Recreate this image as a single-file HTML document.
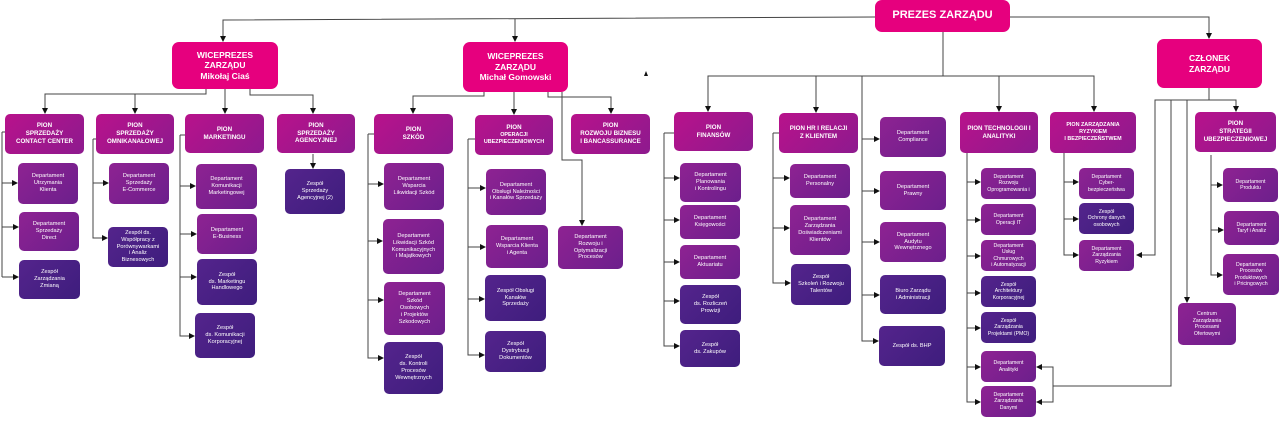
<!DOCTYPE html>
<html><head><meta charset="utf-8"><style>
body{margin:0;width:1280px;height:431px;background:#fff;position:relative;overflow:hidden;font-family:"Liberation Sans",sans-serif}
.b{position:absolute;display:flex;flex-direction:column;align-items:center;justify-content:center;text-align:center;color:#fff;border-radius:5px;font-size:5.6px;line-height:1.25;box-sizing:border-box;padding:1px}
.t{background:#e6007e;font-weight:bold;font-size:8.5px;border-radius:7px}
.p{background:linear-gradient(135deg,#b8128b,#8d1a8e);font-weight:bold;font-size:6.2px}
.d{background:linear-gradient(135deg,#8e2292,#6c1f8c)}
.z{background:linear-gradient(135deg,#54248c,#3e1d7d)}
svg{position:absolute;left:0;top:0}
</style></head><body>
<svg width="1280" height="431" fill="none" stroke="#444" stroke-width="1">
<defs><marker id="a" markerWidth="6" markerHeight="6" refX="5" refY="3" orient="auto" markerUnits="userSpaceOnUse"><path d="M0,0L6,3L0,6z" fill="#111" stroke="none"/></marker></defs>
<g>
<path d="M2,132L2,277"/><path d="M2,132L5,132"/><path d="M93,139L96,139"/><path d="M180,135L185,135"/><path d="M368,134L374,134"/><path d="M468,139L475,139"/><path d="M664,133L674,133"/><path d="M773,133L779,133"/>
</g>
<g marker-end="url(#a)">
<path d="M875,17L223,20L223,41"/>
<path d="M515,19L515,41"/>
<path d="M1010,17L1209,17L1209,38"/>
<path d="M206,89L206,94L45,94L45,113"/>
<path d="M135,94L135,113"/>
<path d="M225,89L225,113"/>
<path d="M250,89L250,95L313,95L313,113"/>
<path d="M313,154L313,168"/>
<path d="M2,132L2,183L17,183"/><path d="M2,227L18,227"/><path d="M2,277L18,277"/>
<path d="M93,139L93,183L108,183"/><path d="M93,139L93,238L107,238"/>
<path d="M180,135L180,186L195,186"/><path d="M180,234L196,234"/><path d="M180,277L196,277"/><path d="M180,135L180,336L194,336"/>
<path d="M484,92L484,96L413,96L413,113"/><path d="M514,92L514,114"/>
<path d="M548,92L548,97L611,97L611,113"/>
<path d="M562,92L562,160L582,160L582,225"/>
<path d="M368,134L368,184L383,184"/><path d="M368,241L382,241"/><path d="M368,300L383,300"/><path d="M368,134L368,358L383,358"/>
<path d="M468,139L468,188L485,188"/><path d="M468,247L485,247"/><path d="M468,299L484,299"/><path d="M468,139L468,355L484,355"/>
<path d="M943,32L943,76L708,76L708,111"/><path d="M816,76L816,112"/><path d="M943,76L1094,76L1094,111"/><path d="M999,76L999,111"/>
<path d="M862,76L862,139L879,139"/><path d="M862,191L879,191"/><path d="M862,242L879,242"/><path d="M862,295L879,295"/><path d="M862,76L862,341L878,341"/>
<path d="M664,133L664,178L679,178"/><path d="M664,220L679,220"/><path d="M664,262L679,262"/><path d="M664,301L679,301"/><path d="M664,133L664,346L679,346"/>
<path d="M773,133L773,178L789,178"/><path d="M773,228L789,228"/><path d="M773,133L773,283L790,283"/>
<path d="M967,153L967,182L980,182"/><path d="M967,220L980,220"/><path d="M967,256L980,256"/><path d="M967,293L980,293"/><path d="M967,328L980,328"/><path d="M967,367L980,367"/><path d="M967,153L967,402L980,402"/>
<path d="M1064,153L1064,182L1078,182"/><path d="M1064,219L1078,219"/><path d="M1064,153L1064,255L1078,255"/>
<path d="M1209,88L1209,100L1155,100L1155,255L1137,255"/>
<path d="M1209,100L1236,100L1236,111"/>
<path d="M1187,100L1187,302"/>
<path d="M1171,100L1171,386L1053,386L1053,367L1037,367"/><path d="M1053,386L1053,402L1037,402"/>
<path d="M1211,155L1211,185L1222,185"/><path d="M1211,230L1223,230"/><path d="M1211,155L1211,275L1222,275"/>
</g>
<path d="M644,76L646,71L648,76z" fill="#111" stroke="none"/>
</svg>
<div class="b t" style="left:875px;top:0;width:135px;height:32px;font-size:11px">PREZES ZARZĄDU</div>
<div class="b t" style="left:172px;top:42px;width:106px;height:47px">WICEPREZES<br>ZARZĄDU<br>Mikołaj Ciaś</div>
<div class="b t" style="left:463px;top:42px;width:105px;height:50px">WICEPREZES<br>ZARZĄDU<br>Michał Gomowski</div>
<div class="b t" style="left:1157px;top:39px;width:105px;height:49px">CZŁONEK<br>ZARZĄDU</div>

<div class="b p" style="left:5px;top:114px;width:79px;height:40px">PION<br>SPRZEDAŻY<br>CONTACT CENTER</div>
<div class="b p" style="left:96px;top:114px;width:78px;height:40px">PION<br>SPRZEDAŻY<br>OMNIKANAŁOWEJ</div>
<div class="b p" style="left:185px;top:114px;width:79px;height:39px">PION<br>MARKETINGU</div>
<div class="b p" style="left:277px;top:114px;width:78px;height:39px">PION<br>SPRZEDAŻY<br>AGENCYJNEJ</div>
<div class="b z" style="left:285px;top:169px;width:60px;height:45px">Zespół<br>Sprzedaży<br>Agencyjnej (2)</div>

<div class="b d" style="left:18px;top:163px;width:60px;height:41px">Departament<br>Utrzymania<br>Klienta</div>
<div class="b d" style="left:19px;top:212px;width:60px;height:39px">Departament<br>Sprzedaży<br>Direct</div>
<div class="b z" style="left:19px;top:260px;width:61px;height:39px">Zespół<br>Zarządzania<br>Zmianą</div>
<div class="b d" style="left:109px;top:163px;width:60px;height:41px">Departament<br>Sprzedaży<br>E-Commerce</div>
<div class="b z" style="left:108px;top:227px;width:60px;height:40px">Zespół ds.<br>Współpracy z<br>Porównywarkami<br>i Analiz<br>Biznesowych</div>
<div class="b d" style="left:196px;top:164px;width:61px;height:45px">Departament<br>Komunikacji<br>Marketingowej</div>
<div class="b d" style="left:197px;top:214px;width:60px;height:40px">Departament<br>E-Business</div>
<div class="b z" style="left:197px;top:259px;width:60px;height:46px">Zespół<br>ds. Marketingu<br>Handlowego</div>
<div class="b z" style="left:195px;top:313px;width:60px;height:45px">Zespół<br>ds. Komunikacji<br>Korporacyjnej</div>

<div class="b p" style="left:374px;top:114px;width:79px;height:40px">PION<br>SZKÓD</div>
<div class="b p" style="left:475px;top:115px;width:78px;height:40px"><div>PION</div><div style="font-size:5.4px">OPERACJI<br>UBEZPIECZENIOWYCH</div></div>
<div class="b p" style="left:571px;top:114px;width:79px;height:40px">PION<br>ROZWOJU BIZNESU<br>I BANCASSURANCE</div>
<div class="b d" style="left:558px;top:226px;width:65px;height:43px">Departament<br>Rozwoju i<br>Optymalizacji<br>Procesów</div>
<div class="b d" style="left:384px;top:163px;width:60px;height:47px">Departament<br>Wsparcia<br>Likwidacji Szkód</div>
<div class="b d" style="left:383px;top:219px;width:61px;height:55px">Departament<br>Likwidacji Szkód<br>Komunikacyjnych<br>i Majątkowych</div>
<div class="b d" style="left:384px;top:282px;width:61px;height:53px">Departament<br>Szkód<br>Osobowych<br>i Projektów<br>Szkodowych</div>
<div class="b z" style="left:384px;top:342px;width:59px;height:52px">Zespół<br>ds. Kontroli<br>Procesów<br>Wewnętrznych</div>
<div class="b d" style="left:486px;top:169px;width:60px;height:46px">Departament<br>Obsługi Należności<br>i Kanałów Sprzedaży</div>
<div class="b d" style="left:486px;top:225px;width:62px;height:43px">Departament<br>Wsparcia Klienta<br>i Agenta</div>
<div class="b z" style="left:485px;top:275px;width:61px;height:46px">Zespół Obsługi<br>Kanałów<br>Sprzedaży</div>
<div class="b z" style="left:485px;top:331px;width:61px;height:41px">Zespół<br>Dystrybucji<br>Dokumentów</div>

<div class="b p" style="left:674px;top:112px;width:79px;height:39px">PION<br>FINANSÓW</div>
<div class="b d" style="left:680px;top:163px;width:61px;height:39px">Departament<br>Planowania<br>i Kontrolingu</div>
<div class="b d" style="left:680px;top:205px;width:60px;height:34px">Departament<br>Księgowości</div>
<div class="b d" style="left:680px;top:245px;width:60px;height:34px">Departament<br>Aktuariatu</div>
<div class="b z" style="left:680px;top:285px;width:61px;height:39px">Zespół<br>ds. Rozliczeń<br>Prowizji</div>
<div class="b z" style="left:680px;top:330px;width:60px;height:37px">Zespół<br>ds. Zakupów</div>

<div class="b p" style="left:779px;top:113px;width:79px;height:40px">PION HR I RELACJI<br>Z KLIENTEM</div>
<div class="b d" style="left:790px;top:164px;width:60px;height:34px">Departament<br>Personalny</div>
<div class="b d" style="left:790px;top:205px;width:60px;height:50px">Departament<br>Zarządzania<br>Doświadczeniami<br>Klientów</div>
<div class="b z" style="left:791px;top:264px;width:60px;height:41px">Zespół<br>Szkoleń i Rozwoju<br>Talentów</div>

<div class="b d" style="left:880px;top:117px;width:66px;height:40px">Departament<br>Compliance</div>
<div class="b d" style="left:880px;top:171px;width:66px;height:39px">Departament<br>Prawny</div>
<div class="b d" style="left:880px;top:222px;width:66px;height:40px">Departament<br>Audytu<br>Wewnętrznego</div>
<div class="b z" style="left:880px;top:275px;width:66px;height:39px">Biuro Zarządu<br>i Administracji</div>
<div class="b z" style="left:879px;top:326px;width:66px;height:40px">Zespół ds. BHP</div>

<div class="b p" style="left:960px;top:112px;width:78px;height:41px">PION TECHNOLOGII I<br>ANALITYKI</div>
<div class="b d" style="left:981px;top:168px;width:55px;height:31px;font-size:5.2px">Departament<br>Rozwoju<br>Oprogramowania i</div>
<div class="b d" style="left:981px;top:204px;width:55px;height:31px;font-size:5.2px">Departament<br>Operacji IT</div>
<div class="b d" style="left:981px;top:240px;width:55px;height:31px;font-size:5.2px">Departament<br>Usług<br>Chmurowych<br>i Automatyzacji</div>
<div class="b z" style="left:981px;top:276px;width:55px;height:31px;font-size:5.2px">Zespół<br>Architektury<br>Korporacyjnej</div>
<div class="b z" style="left:981px;top:312px;width:55px;height:31px;font-size:5.2px">Zespół<br>Zarządzania<br>Projektami (PMO)</div>
<div class="b d" style="left:981px;top:351px;width:55px;height:31px;font-size:5.2px">Departament<br>Analityki</div>
<div class="b d" style="left:981px;top:386px;width:55px;height:31px;font-size:5.2px">Departament<br>Zarządzania<br>Danymi</div>

<div class="b p" style="left:1050px;top:112px;width:86px;height:41px;font-size:5.4px">PION ZARZĄDZANIA<br>RYZYKIEM<br>I BEZPIECZEŃSTWEM</div>
<div class="b d" style="left:1079px;top:168px;width:55px;height:31px;font-size:5.2px">Departament<br>Cyber-<br>bezpieczeństwa</div>
<div class="b z" style="left:1079px;top:203px;width:55px;height:31px;font-size:5.2px">Zespół<br>Ochrony danych<br>osobowych</div>
<div class="b d" style="left:1079px;top:240px;width:55px;height:31px;font-size:5.2px">Departament<br>Zarządzania<br>Ryzykiem</div>

<div class="b p" style="left:1195px;top:112px;width:81px;height:40px">PION<br>STRATEGII<br>UBEZPIECZENIOWEJ</div>
<div class="b d" style="left:1223px;top:168px;width:55px;height:34px;font-size:5.2px">Departament<br>Produktu</div>
<div class="b d" style="left:1224px;top:211px;width:55px;height:34px;font-size:5.2px">Departament<br>Taryf i Analiz</div>
<div class="b d" style="left:1223px;top:254px;width:56px;height:41px;font-size:5.2px">Departament<br>Procesów<br>Produktowych<br>i Pricingowych</div>
<div class="b d" style="left:1178px;top:303px;width:58px;height:42px;font-size:5.2px">Centrum<br>Zarządzania<br>Procesami<br>Ofertowymi</div>
</body></html>
